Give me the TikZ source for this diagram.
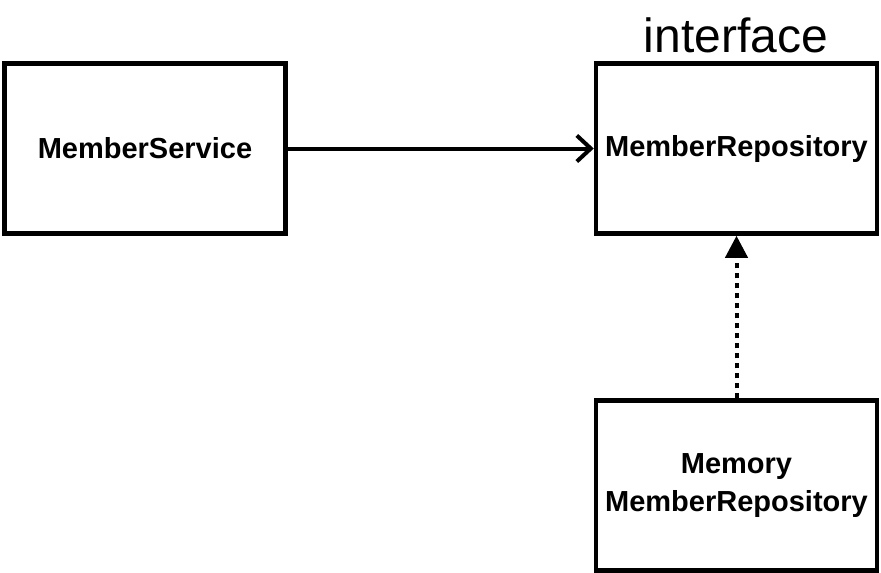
\documentclass[tikz,border=0pt]{standalone}
\usepackage{fontspec}
\setmainfont{Liberation Sans}
\usetikzlibrary{arrows.meta, positioning}

\begin{document}
\begin{tikzpicture}[x=1pt, y=-1pt,
  classbox/.style={draw, line width=4.5pt, minimum width=281pt, minimum height=170pt,
    align=center, inner sep=0pt, font=\fontsize{29}{38}\selectfont\bfseries},
  uses/.style={line width=4pt, -{Straight Barb[length=14pt, width=26pt, line width=4pt]}},
  realizes/.style={line width=4pt, dash pattern=on 5pt off 5pt, -{Triangle[length=22pt, width=22pt]}}]
  \useasboundingbox (0,0) rectangle (881,573);

  % classes
  \node[classbox] (service) at (145, 148.5) {MemberService};
  \node[classbox] (repo) at (736.5, 148.5) {MemberRepository};
  \node[classbox] (memory) at (736.5, 485.5) {Memory\\MemberRepository};

  % stereotype
  \node[font=\fontsize{48}{50}\selectfont, anchor=base] (iface) at (736, 52) {interface};

  % relations
  \draw[uses] (service.east) -- (repo.west);
  \draw[realizes] (memory.north) -- (repo.south);
\end{tikzpicture}
\end{document}
